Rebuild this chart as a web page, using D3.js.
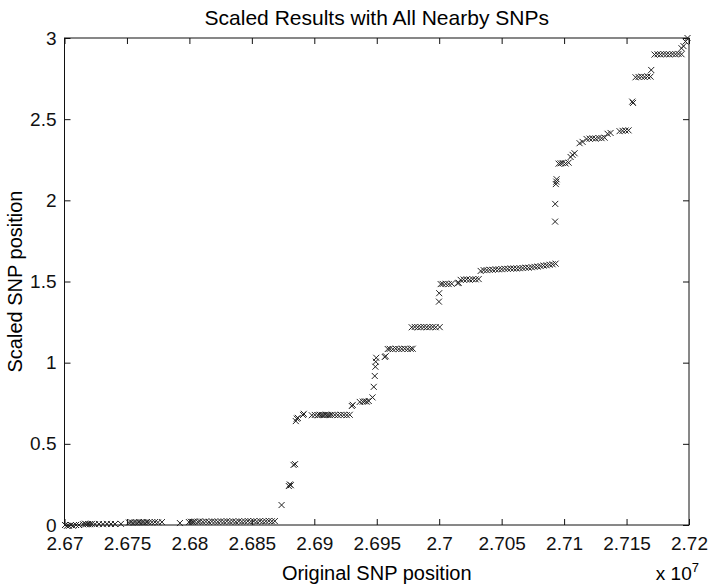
<!DOCTYPE html>
<html>
<head>
<meta charset="utf-8">
<script src="https://cdn.jsdelivr.net/npm/d3@7"></script>
<style>
  body { margin: 0; background: #fff; }
  svg { display: block; font-family: "Liberation Sans", Arial, Helvetica, sans-serif; }
  .axis path, .axis line { stroke: #111; }
  .axis text { fill: #111; font-size: 19px; }
</style>
</head>
<body>
<svg id="chart" width="710" height="586"></svg>
<script>
// SNP positions (bp), with their scaled positions
let snpPos = [
  26700400, 26702000, 26703600, 26705200, 26706800, 26709200, 26711600,
  26714800, 26716400, 26717200, 26718800, 26720400, 26722000, 26724400,
  26727600, 26730800, 26734000, 26737200, 26740400, 26745200,
  26751600, 26753200, 26754800, 26756400, 26758000, 26759600, 26761200, 26762800,
  26764400, 26766000, 26767600, 26770000, 26772400, 26774800, 26778000,
  26792400,
  26799600, 26801200, 26802800, 26804400, 26806800, 26808400, 26810800, 26813200,
  26815600, 26818000, 26820400, 26822800, 26825200, 26827600, 26830000, 26832400,
  26834800, 26837200, 26839600, 26842000, 26844400, 26846800, 26849200, 26851600,
  26854000, 26856400, 26858800, 26861200, 26863600, 26866000, 26868400,
  26873800, 26879600, 26880400, 26881200, 26883400, 26884600,
  26885200, 26886000, 26886800, 26891000, 26891600,
  26898000, 26900400, 26902800, 26904400, 26906000, 26907600, 26909200, 26910800,
  26912400, 26914000, 26916400, 26918800, 26921200, 26923600, 26926000, 26928400,
  26930000, 26930800, 26936400, 26938800, 26940400, 26942000, 26943600,
  26946600, 26947600, 26948400, 26948900, 26949200, 26949600,
  26956400, 26957200, 26958800, 26960400, 26962800, 26965200, 26967600, 26970000,
  26972400, 26974800, 26977200, 26978800,
  26978000, 26980400, 26982800, 26985200, 26987600, 26990000, 26992400, 26994800,
  26997200, 27000400,
  26999800, 27000000,
  27001200, 27002800, 27005200, 27007600, 27010000, 27014800, 27015600,
  27017200, 27019600, 27022000, 27024400, 27026800, 27029200, 27031600,
  27033200, 27035600, 27038000, 27040400, 27042800, 27045200, 27047600, 27050000,
  27052400, 27054800, 27057200, 27059600, 27062000, 27064400, 27066800, 27069200,
  27071600, 27074000, 27076400, 27078800, 27081200, 27083600, 27086000, 27088400,
  27090800, 27093200,
  27092800, 27092900, 27093400, 27093760, 27094000,
  27095600, 27097200, 27098800, 27101200, 27103600,
  27105200, 27106800, 27108400, 27112400, 27114800,
  27118000, 27120400, 27122800, 27125200, 27127600, 27130000, 27132400,
  27134800, 27137200, 27144400, 27146800, 27149200, 27151600,
  27154560, 27155200,
  27157200, 27159600, 27162000, 27164400, 27166800, 27169200, 27169760,
  27172400, 27174800, 27177200, 27179600, 27182000, 27184400, 27186800, 27189200,
  27191600, 27194000, 27194000, 27195600, 27197200, 27198800
];

let scaledPos = [
  0, -0.005, -0.005, 0, -0.005, 0, 0,
  0.005, 0.008, 0.004, 0.006, 0.005, 0.007, 0.005,
  0.006, 0.005, 0.007, 0.006, 0.006, 0.007,
  0.015, 0.017, 0.014, 0.016, 0.015, 0.018, 0.016, 0.017,
  0.015, 0.018, 0.016, 0.017, 0.018, 0.016, 0.018,
  0.012,
  0.018, 0.02, 0.019, 0.021, 0.02, 0.022, 0.02, 0.021,
  0.019, 0.022, 0.021, 0.02, 0.022, 0.021, 0.023, 0.021,
  0.022, 0.02, 0.023, 0.021, 0.022, 0.024, 0.022, 0.023,
  0.021, 0.024, 0.022, 0.023, 0.025, 0.023, 0.024,
  0.123, 0.24, 0.25, 0.245, 0.37, 0.375,
  0.64, 0.655, 0.66, 0.678, 0.685,
  0.676, 0.678, 0.677, 0.679, 0.678, 0.677, 0.679, 0.678,
  0.677, 0.679, 0.678, 0.677, 0.679, 0.678, 0.677, 0.679,
  0.733, 0.74, 0.758, 0.76, 0.762, 0.76, 0.764,
  0.786, 0.851, 0.918, 0.975, 1.006, 1.03,
  1.035, 1.04, 1.084, 1.085, 1.083, 1.086, 1.084, 1.085,
  1.086, 1.084, 1.085, 1.086,
  1.218, 1.22, 1.218, 1.219, 1.22, 1.218, 1.219, 1.22,
  1.218, 1.219,
  1.376, 1.428,
  1.484, 1.485, 1.486, 1.484, 1.486, 1.49, 1.492,
  1.51, 1.512, 1.513, 1.511, 1.514, 1.513, 1.515,
  1.565, 1.57, 1.57, 1.572, 1.572, 1.575, 1.575, 1.576,
  1.578, 1.578, 1.58, 1.58, 1.58, 1.582, 1.583, 1.585,
  1.585, 1.588, 1.59, 1.592, 1.595, 1.598, 1.6, 1.603,
  1.606, 1.61,
  1.869, 1.978, 2.1, 2.115, 2.13,
  2.226, 2.228, 2.23, 2.227, 2.232,
  2.267, 2.28, 2.29, 2.352, 2.36,
  2.378, 2.38, 2.382, 2.38, 2.384, 2.383, 2.386,
  2.41, 2.415, 2.426, 2.428, 2.43, 2.431,
  2.608, 2.6,
  2.758, 2.76, 2.762, 2.76, 2.763, 2.762, 2.803,
  2.898, 2.9, 2.899, 2.901, 2.9, 2.899, 2.901, 2.9,
  2.902, 2.9, 2.937, 2.95, 2.978, 3.0
];

let xTicks = [26700000, 26750000, 26800000, 26850000, 26900000, 26950000,
  27000000, 27050000, 27100000, 27150000, 27200000];
let yTicks = [0, 0.5, 1, 1.5, 2, 2.5, 3];

let title = 'Scaled Results with All Nearby SNPs';
let xLabel = 'Original SNP position';
let yLabel = 'Scaled SNP position';

let margin = {top: 38, right: 21, bottom: 61, left: 64.5};
let width = 710 - margin.left - margin.right,
    height = 586 - margin.top - margin.bottom;

let svg = d3.select('#chart');

let sx = d3.scaleLinear().domain([26700000, 27200000]).range([0, width]);
let sy = d3.scaleLinear().domain([0, 3]).range([height, 0]);

let g = svg.append('g')
  .attr('transform', `translate(${margin.left},${margin.top})`);

let tickLen = 6;
let fmtX = d => d3.format('')(+(d / 1e7).toFixed(4));

// bottom / left axes with labels, ticks pointing inward
g.append('g')
  .attr('class', 'x axis')
  .attr('transform', `translate(0,${height})`)
  .call(d3.axisBottom(sx).tickValues(xTicks).tickFormat(fmtX).tickSizeInner(-tickLen).tickSizeOuter(0).tickPadding(12))
  .call(a => a.select('.domain').remove());

g.append('g')
  .attr('class', 'y axis')
  .call(d3.axisLeft(sy).tickValues(yTicks).tickFormat(d3.format('')).tickSizeInner(-tickLen).tickSizeOuter(0).tickPadding(8))
  .call(a => a.select('.domain').remove());

// top / right ticks without labels
g.append('g')
  .attr('class', 'axis')
  .call(d3.axisTop(sx).tickValues(xTicks).tickFormat('').tickSizeInner(-tickLen).tickSizeOuter(0))
  .call(a => a.select('.domain').remove());

g.append('g')
  .attr('class', 'axis')
  .attr('transform', `translate(${width},0)`)
  .call(d3.axisRight(sy).tickValues(yTicks).tickFormat('').tickSizeInner(-tickLen).tickSizeOuter(0))
  .call(a => a.select('.domain').remove());

g.append('rect')
  .attr('width', width)
  .attr('height', height)
  .attr('fill', 'none')
  .attr('stroke', '#111')
  .attr('stroke-width', 1);

// x markers
let r = 3;
g.append('g').attr('class', 'points')
  .selectAll('path')
  .data(snpPos.map((p, i) => ({x: p, y: scaledPos[i]})))
  .enter()
  .append('path')
    .attr('d', d => {
      let cx = sx(d.x), cy = sy(d.y);
      return `M${cx - r},${cy - r}L${cx + r},${cy + r}M${cx - r},${cy + r}L${cx + r},${cy - r}`;
    })
    .attr('stroke', '#222')
    .attr('stroke-width', 1)
    .attr('fill', 'none');

svg.append('text')
  .attr('x', margin.left + width / 2)
  .attr('y', 25)
  .attr('text-anchor', 'middle')
  .style('font-size', '21px')
  .text(title);

svg.append('text')
  .attr('x', margin.left + width / 2)
  .attr('y', 580)
  .attr('text-anchor', 'middle')
  .style('font-size', '20px')
  .text(xLabel);

svg.append('text')
  .attr('transform', `translate(22,${margin.top + height / 2}) rotate(-90)`)
  .attr('text-anchor', 'middle')
  .style('font-size', '20px')
  .text(yLabel);

let exp = svg.append('text')
  .attr('x', 699)
  .attr('y', 580)
  .attr('text-anchor', 'end')
  .style('font-size', '19px');
exp.append('tspan').text('x 10');
exp.append('tspan').attr('dy', -8).style('font-size', '13px').text('7');
</script>
</body>
</html>
